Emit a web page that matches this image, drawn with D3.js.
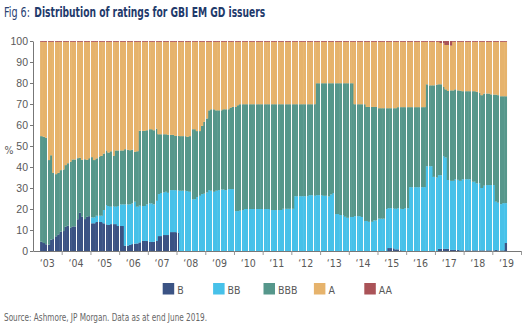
<!DOCTYPE html>
<html>
<head>
<meta charset="utf-8">
<script src="https://cdn.jsdelivr.net/npm/d3@7/dist/d3.min.js"></script>
<style>
  body { margin: 0; background: #fff; }
  svg { display: block; font-family: "Liberation Sans Narrow", "DejaVu Sans Condensed", "Arial Narrow", sans-serif; }
</style>
</head>
<body>
<div id="chart"></div>
<script>
// share of index issuers by rating, monthly from Apr 2003 to Jun 2019
const ratings = ["B", "BB", "BBB", "A", "AA"];
const colors = ["#3b5384", "#47c1e9", "#56978b", "#e6b36c", "#aa5358"];
const yearLabels = ["‘03", "‘04", "‘05", "‘06", "‘07", "‘08", "‘09", "‘10", "‘11", "‘12",
  "‘13", "‘14", "‘15", "‘16", "‘17", "‘18", "‘19"];
const yTicks = [0, 10, 20, 30, 40, 50, 60, 70, 80, 90, 100];

const B = [
  4.4, 3.8, 3.2, 3.0, 5.4, 5.7, 7.0, 7.9, 9.2,
  9.5, 11.6, 12.0, 11.1, 11.7, 11.7, 15.1, 18.2, 16.3, 15.2, 16.3, 16.6,
  13.2, 13.2, 13.8, 13.8, 13.8, 13.2, 12.7, 12.4, 12.8, 12.8, 12.8, 11.9,
  11.9, 11.9, 2.5, 2.5, 2.9, 3.3, 3.5, 3.6, 4.1, 4.8, 4.8, 4.8,
  4.4, 4.3, 4.4, 4.8, 7.1, 7.1, 7.6, 7.6, 7.6, 9.0, 9.0, 9.0,
  8.6, 0, 0, 0, 0, 0, 0, 0, 0, 0, 0, 0,
  0, 0, 0, 0, 0, 0, 0, 0, 0, 0, 0, 0,
  0, 0, 0, 0, 0, 0, 0, 0, 0, 0, 0, 0,
  0, 0, 0, 0, 0, 0, 0, 0, 0, 0, 0, 0,
  0, 0, 0, 0, 0, 0, 0, 0, 0, 0, 0, 0,
  0, 0, 0, 0, 0, 0, 0, 0, 0, 0, 0, 0,
  0, 0, 0, 0, 0, 0, 0, 0, 0, 0, 0, 0,
  0, 0, 0, 0, 1.4, 1.4, 1.3, 0.8, 0.8, 0.4, 0, 0,
  0, 0, 0, 0, 0, 0, 0, 0, 0, 0, 0, 0,
  0, 1.0, 1.0, 1.0, 1.0, 1.0, 0.5, 0.5, 0.5, 0.5, 0.3, 0.3,
  0.3, 0.3, 0.3, 0.3, 0.3, 0.3, 0.3, 0.3, 0.3, 0.3, 0.3, 0.3,
  0.3, 0.5, 0.3, 0.3, 0.3, 3.8
];

const BB = [
  0, 0, 0, 0, 0, 0, 0, 0, 0,
  0, 0, 0, 0, 0, 0, 0, 0, 0, 0, 0, 0,
  2.8, 2.8, 3.0, 3.0, 3.0, 6.3, 9.2, 9.0, 8.3, 8.6, 8.3, 9.5,
  10.3, 10.3, 19.7, 19.7, 19.3, 19.4, 20.0, 17.5, 17.5, 16.6, 16.6, 17.4,
  18.3, 18.4, 17.8, 19.1, 20.0, 20.5, 20.3, 20.6, 20.1, 20.0, 20.0, 20.0,
  20.2, 28.7, 28.7, 28.7, 28.5, 28.2, 24.7, 24.7, 25.7, 26.3, 27.1, 27.3,
  27.9, 29.0, 28.7, 28.2, 28.7, 29.0, 29.3, 29.3, 29.0, 29.5, 29.5, 29.5,
  19.0, 19.0, 19.2, 19.5, 20.0, 20.0, 20.0, 20.0, 20.0, 20.0, 20.0, 20.0,
  20.0, 20.0, 20.0, 19.5, 19.5, 19.5, 19.5, 19.5, 20.1, 20.1, 20.1, 20.1,
  20.1, 26.1, 26.1, 26.1, 26.1, 26.1, 26.1, 26.6, 26.6, 26.3, 26.6, 26.6,
  26.6, 26.3, 26.3, 26.0, 26.9, 27.6, 17.6, 17.6, 17.1, 17.1, 16.3, 15.8,
  16.2, 16.2, 16.6, 16.6, 16.6, 16.2, 14.3, 14.3, 13.9, 13.9, 14.6, 14.6,
  15.4, 15.4, 15.4, 20.0, 19.0, 19.0, 19.1, 19.3, 19.6, 19.7, 20.0, 20.4,
  20.4, 30.4, 30.4, 30.4, 30.4, 30.4, 30.4, 30.4, 40.4, 40.4, 40.4, 35.3,
  35.0, 35.1, 35.1, 44.2, 43.5, 32.8, 32.9, 32.9, 33.7, 33.4, 33.1, 33.9,
  33.9, 33.9, 33.9, 32.7, 32.7, 31.9, 31.9, 29.7, 30.8, 31.1, 31.1, 31.1,
  31.1, 23.0, 22.7, 22.0, 22.5, 19.0
];

const BBB = [
  50.3, 50.6, 50.7, 40.3, 40.2, 31.5, 29.6, 29.3, 29.3,
  29.3, 29.3, 29.8, 31.4, 31.9, 31.9, 29.1, 26.3, 27.1, 28.5, 27.1, 27.6,
  28.7, 27.3, 27.3, 28.2, 28.5, 26.9, 26.0, 25.5, 26.4, 23.9, 26.8, 26.5,
  25.7, 25.7, 26.3, 26.0, 25.8, 25.6, 23.7, 26.4, 35.7, 35.8, 35.8, 35.3,
  35.3, 35.3, 35.3, 34.4, 28.5, 28.0, 27.7, 27.4, 27.6, 26.3, 26.3, 25.8,
  26.0, 26.0, 26.0, 26.0, 25.9, 26.5, 33.3, 33.3, 31.4, 30.8, 32.5, 34.2,
  35.2, 38.0, 38.8, 39.3, 38.3, 38.0, 37.7, 38.2, 38.5, 38.0, 38.8, 39.1,
  49.6, 50.4, 50.7, 50.4, 49.9, 49.9, 49.9, 49.9, 49.9, 49.9, 49.9, 49.9,
  49.9, 49.9, 49.9, 50.4, 50.4, 50.4, 50.4, 50.4, 49.8, 49.8, 49.8, 49.8,
  49.8, 43.8, 43.8, 43.8, 43.8, 43.8, 43.8, 43.3, 43.3, 43.6, 53.3, 53.3,
  53.3, 53.6, 53.6, 53.9, 53.0, 52.3, 62.3, 62.3, 62.8, 62.8, 63.6, 64.1,
  63.7, 63.7, 53.3, 53.3, 53.3, 53.7, 55.6, 54.3, 54.7, 54.7, 54.0, 54.0,
  52.6, 52.6, 52.6, 48.0, 47.6, 47.6, 47.6, 47.9, 48.1, 48.4, 48.5, 48.1,
  48.1, 38.1, 38.1, 38.1, 38.1, 38.1, 38.1, 38.1, 39.0, 38.5, 38.5, 43.6,
  44.2, 43.3, 43.3, 32.9, 32.5, 42.4, 43.1, 43.1, 42.8, 42.6, 43.0, 41.9,
  41.9, 41.9, 41.9, 43.1, 43.1, 43.6, 43.1, 44.2, 43.9, 43.6, 43.6, 43.2,
  43.1, 51.0, 51.2, 51.4, 50.9, 50.9
];

const A = [
  44.9, 45.2, 45.7, 56.3, 54.0, 62.4, 63.0, 62.4, 61.1,
  60.8, 58.7, 57.8, 57.1, 56.0, 56.0, 55.4, 55.1, 56.2, 55.9, 56.2, 55.4,
  54.9, 56.3, 55.5, 54.6, 54.3, 53.2, 51.7, 52.7, 52.1, 54.3, 51.7, 51.7,
  51.7, 51.7, 51.1, 51.4, 51.6, 51.3, 52.4, 52.1, 42.3, 42.4, 42.4, 42.1,
  41.6, 41.6, 42.1, 41.3, 44.0, 44.0, 44.0, 44.0, 44.3, 44.3, 44.3, 44.8,
  44.8, 44.9, 44.9, 44.9, 45.2, 44.9, 41.6, 41.6, 42.5, 42.5, 40.0, 38.1,
  36.5, 32.6, 32.1, 32.1, 32.6, 32.6, 32.6, 32.1, 32.1, 32.1, 31.3, 31.0,
  31.0, 30.2, 29.7, 29.7, 29.7, 29.7, 29.7, 29.7, 29.7, 29.7, 29.7, 29.7,
  29.7, 29.7, 29.7, 29.7, 29.7, 29.7, 29.7, 29.7, 29.7, 29.7, 29.7, 29.7,
  29.7, 29.7, 29.7, 29.7, 29.7, 29.7, 29.7, 29.7, 29.7, 29.7, 19.7, 19.7,
  19.7, 19.7, 19.7, 19.7, 19.7, 19.7, 19.7, 19.7, 19.7, 19.7, 19.7, 19.7,
  19.7, 19.7, 29.7, 29.7, 29.7, 29.7, 29.7, 31.0, 31.0, 31.0, 31.0, 31.0,
  31.6, 31.6, 31.6, 31.6, 31.6, 31.6, 31.6, 31.6, 31.1, 31.1, 31.1, 31.1,
  31.1, 31.1, 31.1, 31.1, 31.1, 31.1, 31.1, 31.1, 20.2, 20.7, 20.7, 20.7,
  20.4, 20.2, 19.6, 20.9, 21.1, 21.9, 21.3, 23.1, 22.6, 23.1, 23.2, 23.5,
  23.5, 23.5, 23.5, 23.5, 23.5, 23.8, 24.3, 25.4, 24.6, 24.6, 24.6, 25.0,
  25.1, 25.1, 25.4, 25.9, 25.9, 25.9
];

const AA = [
  0.4, 0.4, 0.4, 0.4, 0.4, 0.4, 0.4, 0.4, 0.4,
  0.4, 0.4, 0.4, 0.4, 0.4, 0.4, 0.4, 0.4, 0.4, 0.4, 0.4, 0.4,
  0.4, 0.4, 0.4, 0.4, 0.4, 0.4, 0.4, 0.4, 0.4, 0.4, 0.4, 0.4,
  0.4, 0.4, 0.4, 0.4, 0.4, 0.4, 0.4, 0.4, 0.4, 0.4, 0.4, 0.4,
  0.4, 0.4, 0.4, 0.4, 0.4, 0.4, 0.4, 0.4, 0.4, 0.4, 0.4, 0.4,
  0.4, 0.4, 0.4, 0.4, 0.4, 0.4, 0.4, 0.4, 0.4, 0.4, 0.4, 0.4,
  0.4, 0.4, 0.4, 0.4, 0.4, 0.4, 0.4, 0.4, 0.4, 0.4, 0.4, 0.4,
  0.4, 0.4, 0.4, 0.4, 0.4, 0.4, 0.4, 0.4, 0.4, 0.4, 0.4, 0.4,
  0.4, 0.4, 0.4, 0.4, 0.4, 0.4, 0.4, 0.4, 0.4, 0.4, 0.4, 0.4,
  0.4, 0.4, 0.4, 0.4, 0.4, 0.4, 0.4, 0.4, 0.4, 0.4, 0.4, 0.4,
  0.4, 0.4, 0.4, 0.4, 0.4, 0.4, 0.4, 0.4, 0.4, 0.4, 0.4, 0.4,
  0.4, 0.4, 0.4, 0.4, 0.4, 0.4, 0.4, 0.4, 0.4, 0.4, 0.4, 0.4,
  0.4, 0.4, 0.4, 0.4, 0.4, 0.4, 0.4, 0.4, 0.4, 0.4, 0.4, 0.4,
  0.4, 0.4, 0.4, 0.4, 0.4, 0.4, 0.4, 0.4, 0.4, 0.4, 0.4, 0.4,
  0.4, 0.4, 1.0, 1.0, 1.9, 1.9, 2.2, 0.4, 0.4, 0.4, 0.4, 0.4,
  0.4, 0.4, 0.4, 0.4, 0.4, 0.4, 0.4, 0.4, 0.4, 0.4, 0.4, 0.4,
  0.4, 0.4, 0.4, 0.4, 0.4, 0.4
];

const series = { B: B, BB: BB, BBB: BBB, A: A, AA: AA };

const width = 529, height = 328;
const margin = { top: 41, right: 8, bottom: 77, left: 33 };
const textColor = "#595959";

const svg = d3.select("#chart").append("svg")
  .attr("width", width)
  .attr("height", height);

const start = new Date(Date.UTC(2003, 3, 1));
const months = B.map((d, i) => d3.utcMonth.offset(start, i));
const rows = months.map((m, i) => {
  const row = { date: m };
  ratings.forEach(k => { row[k] = series[k][i]; });
  return row;
});

const x = d3.scaleUtc()
  .domain([new Date(Date.UTC(2003, 0, 1)), new Date(Date.UTC(2020, 0, 1))])
  .range([margin.left, width - margin.right]);

const y = d3.scaleLinear()
  .domain([0, 100])
  .range([height - margin.bottom - 0, margin.top]);

const color = d3.scaleOrdinal().domain(ratings).range(colors);

// each month sums to 100%
const stacked = d3.stack()
  .keys(ratings)
  .offset(d3.stackOffsetExpand)(rows);

const layers = svg.append("g").attr("class", "layers")
  .selectAll("g")
  .data(stacked)
  .join("g")
  .attr("fill", d => color(d.key));

layers.selectAll("rect")
  .data(d => d)
  .join("rect")
  .attr("x", d => x(d.data.date))
  .attr("width", d => x(d3.utcMonth.offset(d.data.date, 1)) - x(d.data.date) + 0.5)
  .attr("y", d => y(d[1] * 100))
  .attr("height", d => Math.max(0, y(d[0] * 100) - y(d[1] * 100)));

// thin white seams every third month
svg.append("g").attr("class", "seams")
  .selectAll("line")
  .data(months.filter((m, i) => i > 0 && i % 3 === 0))
  .join("line")
  .attr("x1", d => Math.round(x(d)) + 0.5)
  .attr("x2", d => Math.round(x(d)) + 0.5)
  .attr("y1", y(100))
  .attr("y2", y(0))
  .attr("stroke", "#fff")
  .attr("stroke-width", 1);

// y axis
const yAxis = svg.append("g")
  .attr("transform", "translate(" + margin.left + ",0)")
  .call(d3.axisLeft(y).tickValues(yTicks).tickSize(3).tickSizeOuter(0).tickPadding(2));
yAxis.select(".domain").attr("stroke", "#777");
yAxis.selectAll(".tick line").attr("stroke", "#777");
yAxis.selectAll(".tick text")
  .attr("fill", textColor)
  .style("font-size", "10.5px")
  .style("font-family", "inherit");

svg.append("text")
  .attr("x", 9)
  .attr("y", 154)
  .attr("text-anchor", "middle")
  .attr("fill", textColor)
  .style("font-size", "10.5px")
  .text("%");

// x axis: ticks at year boundaries, labels mid-year
const years = d3.utcYear.range(new Date(Date.UTC(2004, 0, 1)), new Date(Date.UTC(2020, 0, 2)));
const xAxis = svg.append("g")
  .attr("transform", "translate(0," + y(0) + ")")
  .call(d3.axisBottom(x).tickValues(years).tickSize(4).tickSizeOuter(0).tickFormat(""));
xAxis.select(".domain").attr("stroke", "#777");
xAxis.selectAll(".tick line").attr("stroke", "#999");

svg.append("g").attr("class", "year-labels")
  .selectAll("text")
  .data(yearLabels)
  .join("text")
  .attr("x", (d, i) => x(new Date(Date.UTC(2003 + i, 6, 1))))
  .attr("y", y(0) + 16)
  .attr("text-anchor", "middle")
  .attr("fill", textColor)
  .style("font-size", "10.5px")
  .text(d => d);

// legend
const legend = svg.append("g").attr("class", "legend")
  .selectAll("g")
  .data(ratings)
  .join("g")
  .attr("transform", (d, i) => "translate(" + (162.7 + i * 50.4) + ",283)");

legend.append("rect")
  .attr("width", 11.5)
  .attr("height", 11.5)
  .attr("fill", d => color(d));

legend.append("text")
  .attr("x", 14.5)
  .attr("y", 11)
  .attr("fill", textColor)
  .style("font-size", "10.5px")
  .text(d => d);

// title
svg.append("text")
  .attr("x", 4)
  .attr("y", 17)
  .attr("fill", "#2a4272")
  .attr("textLength", 26)
  .attr("lengthAdjust", "spacingAndGlyphs")
  .style("font-size", "13.5px")
  .text("Fig 6:");

svg.append("text")
  .attr("x", 34.3)
  .attr("y", 17)
  .attr("fill", "#1f3a6b")
  .attr("font-weight", "bold")
  .attr("textLength", 231)
  .attr("lengthAdjust", "spacingAndGlyphs")
  .style("font-size", "13.5px")
  .text("Distribution of ratings for GBI EM GD issuers");

svg.append("text")
  .attr("x", 4)
  .attr("y", 321)
  .attr("fill", "#666")
  .attr("textLength", 203)
  .attr("lengthAdjust", "spacingAndGlyphs")
  .style("font-size", "10px")
  .text("Source: Ashmore, JP Morgan. Data as at end June 2019.");
</script>
</body>
</html>
